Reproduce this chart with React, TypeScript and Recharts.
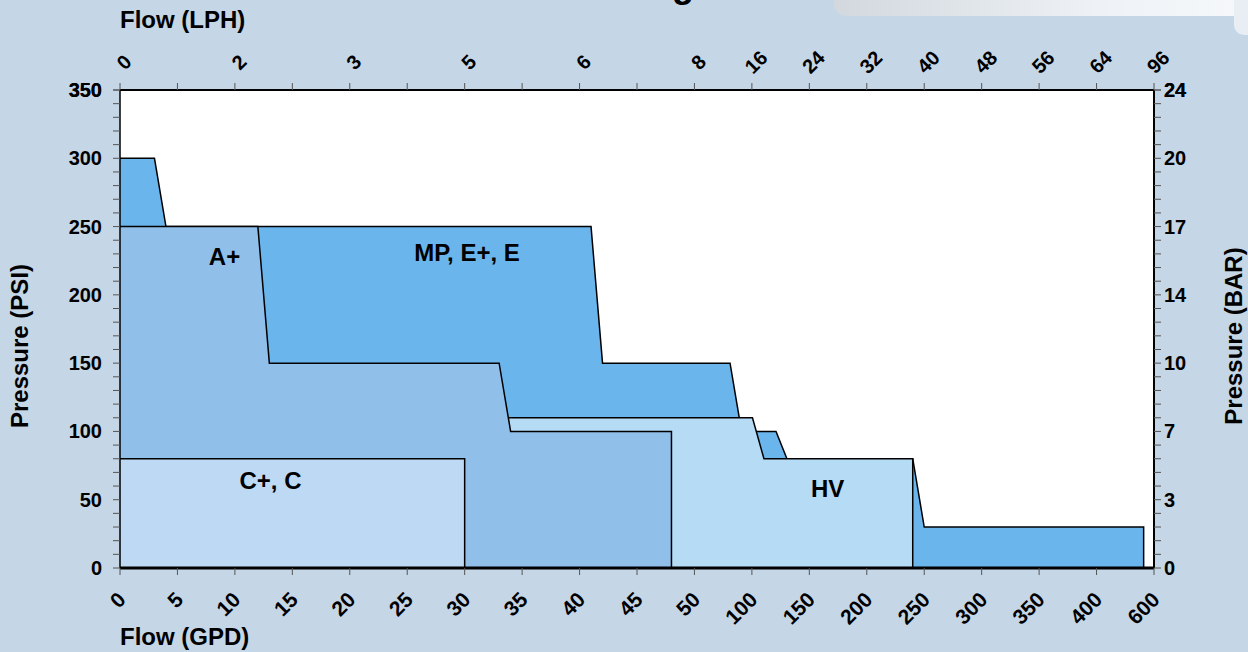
import React from 'react';
import { ComposedChart, Area, XAxis, YAxis, CartesianGrid, ReferenceDot } from 'recharts';

// Bottom axis: GPD tick values (evenly spaced on the axis)
const gpdTickValues = [0, 5, 10, 15, 20, 25, 30, 35, 40, 45, 50, 100, 150, 200, 250, 300, 350, 400, 600];
// Top axis: LPH labels at the same tick slots ('' = tick without label)
const lphTickLabels = ['0', '', '2', '', '3', '', '5', '', '6', '', '8', '16', '24', '32', '40', '48', '56', '64', '96'];
// Left axis (PSI) and right axis (BAR) labels
const psiMajorTicks = [0, 50, 100, 150, 200, 250, 300, 350];
const barTickLabels = ['0', '3', '7', '10', '14', '17', '20', '24'];

// Series: flow (GPD) / pressure (PSI) outlines
const mpGpd = [0, 3, 4, 41, 42, 81, 91, 121, 130.5, 240, 250, 564, 564];
const mpPsi = [300, 300, 250, 250, 150, 150, 100, 100, 80, 80, 30, 30, 0];
const hvGpd = [0, 100.5, 110.5, 240, 240];
const hvPsi = [110, 110, 80, 80, 0];
const aPlusGpd = [0, 12, 13, 33, 34, 48, 48];
const aPlusPsi = [250, 250, 150, 150, 100, 100, 0];
const cGpd = [0, 30, 30];
const cPsi = [80, 80, 0];

// Region labels (GPD, PSI)
const regionLabels = [
  { text: 'A+', gpd: 9.1, psi: 228 },
  { text: 'MP, E+, E', gpd: 30.2, psi: 231 },
  { text: 'C+, C', gpd: 13.1, psi: 64 },
  { text: 'HV', gpd: 166, psi: 58 },
];

const FONT = '"Liberation Sans", Arial, Helvetica, sans-serif';

// Convert a GPD value to its slot on the (piecewise) axis defined by the tick values
function gpdToPos(g: number): number {
  for (let i = 0; i < gpdTickValues.length - 1; i++) {
    const a = gpdTickValues[i];
    const b = gpdTickValues[i + 1];
    if (g <= b) return i + (g - a) / (b - a);
  }
  return gpdTickValues.length - 1;
}

const toData = (gpd: number[], psi: number[]) => gpd.map((g, i) => ({ pos: gpdToPos(g), psi: psi[i] }));

const mpData = toData(mpGpd, mpPsi);
const hvData = toData(hvGpd, hvPsi);
const aPlusData = toData(aPlusGpd, aPlusPsi);
const cData = toData(cGpd, cPsi);

const slotTicks = gpdTickValues.map((_, i) => i);
const psiAllTicks = Array.from({ length: 36 }, (_, i) => i * 10);

const BottomTick = (props: any) => {
  const { x, y, payload } = props;
  const ax = x + 7;
  const ay = y + 24;
  return (
    <text x={ax} y={ay} transform={`rotate(-45 ${ax} ${ay})`} textAnchor="end" fontFamily={FONT} fontWeight="bold" fontSize={21} fill="#000">
      {String(gpdTickValues[payload.value])}
    </text>
  );
};

const TopTick = (props: any) => {
  const { x, y, payload } = props;
  const label = lphTickLabels[payload.value];
  if (!label) return <g />;
  const ax = x + 9;
  const ay = y - 14;
  return (
    <text x={ax} y={ay} transform={`rotate(-45 ${ax} ${ay})`} textAnchor="middle" fontFamily={FONT} fontWeight="bold" fontSize={20} fill="#000">
      {label}
    </text>
  );
};

const LeftTick = (props: any) => {
  const { x, y, payload } = props;
  if (payload.value % 50 !== 0) return <g />;
  return (
    <text x={x - 9} y={y + 7} textAnchor="end" fontFamily={FONT} fontWeight="bold" fontSize={20} fill="#000">
      {String(payload.value)}
    </text>
  );
};

const RightTick = (props: any) => {
  const { x, y, payload } = props;
  if (payload.value % 50 !== 0) return <g />;
  const idx = psiMajorTicks.indexOf(payload.value);
  return (
    <text x={x + 1} y={y + 7} textAnchor="start" fontFamily={FONT} fontWeight="bold" fontSize={20} fill="#000">
      {barTickLabels[idx]}
    </text>
  );
};

const areaCommon = {
  type: 'linear' as const,
  dataKey: 'psi',
  xAxisId: 'bottom',
  yAxisId: 'left',
  stroke: '#000',
  strokeWidth: 1.5,
  fillOpacity: 1,
  dot: false,
  activeDot: false,
  isAnimationActive: false,
};

export default function App() {
  return (
    <div style={{ position: 'relative', width: 1248, height: 652, background: '#c5d6e6', overflow: 'hidden' }}>
      <style>{`html,body{margin:0;padding:0;}`}</style>
      <svg width={1248} height={652} style={{ position: 'absolute', left: 0, top: 0 }}>
        <defs>
          <linearGradient id="topShade" x1="0" x2="1" y1="0" y2="0">
            <stop offset="0" stopColor="#d2d8de" />
            <stop offset="0.6" stopColor="#eef2f6" />
            <stop offset="1" stopColor="#f7f9fb" />
          </linearGradient>
        </defs>
        <rect x={834} y={-30} width={440} height={46} rx={12} fill="url(#topShade)" />
        <rect x={1234} y={-10} width={40} height={45} rx={10} fill="#e8eef4" />
        <text x={512} y={-3} fontFamily={FONT} fontWeight="bold" fontSize={36} fill="#000">Flow Range</text>
        <text x={120} y={28} fontFamily={FONT} fontWeight="bold" fontSize={24} fill="#000">Flow (LPH)</text>
        <text x={120} y={645} fontFamily={FONT} fontWeight="bold" fontSize={24} fill="#000">Flow (GPD)</text>
        <text x={28} y={346} transform="rotate(-90 28 346)" textAnchor="middle" fontFamily={FONT} fontWeight="bold" fontSize={24} fill="#000">Pressure (PSI)</text>
        <text x={1242} y={336} transform="rotate(-90 1242 336)" textAnchor="middle" fontFamily={FONT} fontWeight="bold" fontSize={24} fill="#000">Pressure (BAR)</text>
      </svg>
      <div style={{ position: 'absolute', left: 0, top: 0 }}>
        <ComposedChart width={1248} height={652} margin={{ top: 0, right: 0, bottom: 0, left: 0 }}>
          <CartesianGrid xAxisId="bottom" yAxisId="left" horizontal={false} vertical={false} fill="#ffffff" />
          <XAxis
            xAxisId="bottom"
            dataKey="pos"
            type="number"
            domain={[0, 18]}
            ticks={slotTicks}
            interval={0}
            height={84}
            orientation="bottom"
            axisLine={{ stroke: '#000', strokeWidth: 3 }}
            tickLine={{ stroke: '#555', strokeWidth: 1 }}
            tickSize={7}
            tick={<BottomTick />}
            allowDataOverflow
          />
          <XAxis
            xAxisId="top"
            dataKey="pos"
            type="number"
            domain={[0, 18]}
            ticks={slotTicks}
            interval={0}
            height={90}
            orientation="top"
            axisLine={{ stroke: '#000', strokeWidth: 2 }}
            tickLine={{ stroke: '#555', strokeWidth: 1 }}
            tickSize={7}
            tick={<TopTick />}
            allowDataOverflow
          />
          <YAxis
            yAxisId="left"
            type="number"
            domain={[0, 350]}
            ticks={psiAllTicks.concat([350])}
            interval={0}
            width={120}
            orientation="left"
            axisLine={{ stroke: '#000', strokeWidth: 1.5 }}
            tickLine={{ stroke: '#555', strokeWidth: 1 }}
            tickSize={7}
            tick={<LeftTick />}
            allowDataOverflow
          />
          <YAxis
            yAxisId="right"
            type="number"
            domain={[0, 350]}
            ticks={psiAllTicks.concat([350])}
            interval={0}
            width={94}
            orientation="right"
            axisLine={{ stroke: '#000', strokeWidth: 2 }}
            tickLine={{ stroke: '#555', strokeWidth: 1 }}
            tickSize={7}
            tick={<RightTick />}
            allowDataOverflow
          />
          <Area {...areaCommon} data={mpData} fill="#6bb5ed" />
          <Area {...areaCommon} data={hvData} fill="#b6dbf5" />
          <Area {...areaCommon} data={aPlusData} fill="#90bfea" />
          <Area {...areaCommon} data={cData} fill="#bdd9f3" />
          {regionLabels.map((l) => (
            <ReferenceDot
              key={l.text}
              xAxisId="bottom"
              yAxisId="left"
              x={gpdToPos(l.gpd)}
              y={l.psi}
              r={0}
              fill="none"
              stroke="none"
              label={{ value: l.text, position: 'center', fill: '#000', fontSize: 24, fontWeight: 'bold', fontFamily: FONT }}
            />
          ))}
        </ComposedChart>
      </div>
    </div>
  );
}
